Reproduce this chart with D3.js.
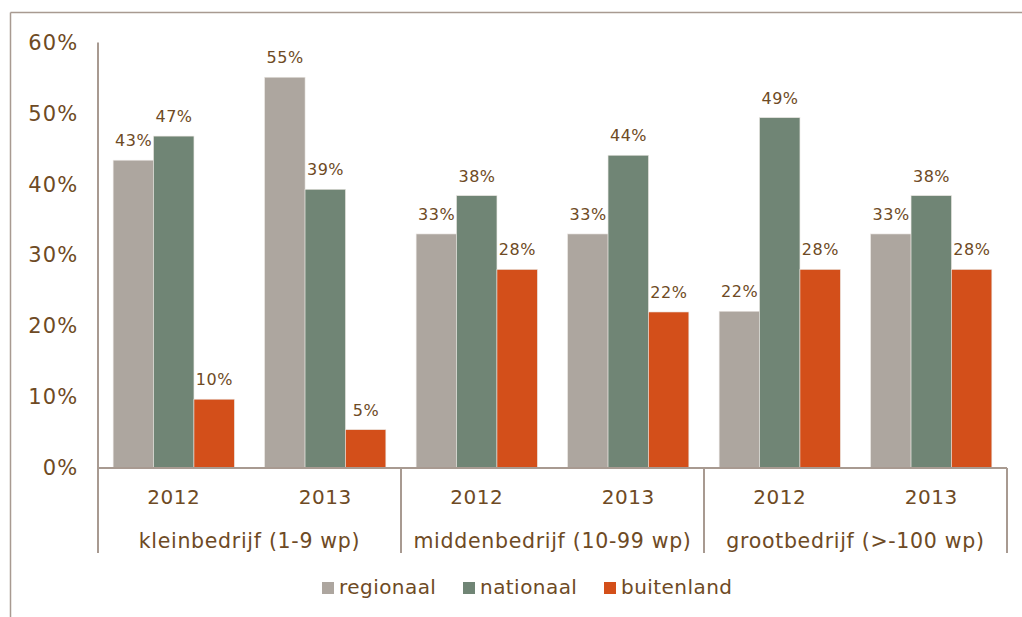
<!DOCTYPE html>
<html><head><meta charset="utf-8">
<script src="https://cdn.jsdelivr.net/npm/d3@7"></script>
<style>body{margin:0;background:#fff;} svg{display:block;font-family:"DejaVu Sans",Verdana,sans-serif;}</style>
</head><body>
<svg id="c" width="1022" height="617"></svg>
<script>
const groups = ["kleinbedrijf (1-9 wp)", "middenbedrijf (10-99 wp)", "grootbedrijf (>-100 wp)"];
const years = ["2012", "2013"];
const seriesNames = ["regionaal", "nationaal", "buitenland"];
const regionaal = [43.4, 55.1, 33.0, 33.0, 22.1, 33.0];
const nationaal = [46.8, 39.3, 38.4, 44.1, 49.4, 38.4];
const buitenland = [9.7, 5.4, 28.0, 22.0, 28.0, 28.0];
const yTicks = [0, 10, 20, 30, 40, 50, 60];

(function(){
const colors = ["#ada69f", "#708575", "#d34f1a"];
const textColor = "#6e4a24";
const lineColor = "#a89a91";

const svg = d3.select("#c");
const pLeft = 98, pRight = 1007, pTop = 42.5, pBottom = 468;

// frame
svg.append("line").attr("x1",10.5).attr("x2",1022).attr("y1",12.5).attr("y2",12.5).attr("stroke",lineColor).attr("stroke-width",1.5);
svg.append("line").attr("x1",10.5).attr("x2",10.5).attr("y1",12.5).attr("y2",617).attr("stroke",lineColor).attr("stroke-width",1.5);

const cats = [];
groups.forEach((g,gi)=>years.forEach((yr,yi)=>cats.push({g,gi,yr,key:g+"|"+yr})));
const data = cats.map((c,i)=>({...c, vals:[regionaal[i],nationaal[i],buitenland[i]]}));

const x = d3.scaleBand().domain(cats.map(c=>c.key)).range([pLeft,pRight]).paddingInner(0.2).paddingOuter(0.1);
const xs = d3.scaleBand().domain(seriesNames).range([0,x.bandwidth()]);
const y = d3.scaleLinear().domain([0,60]).range([pBottom,pTop]);

// y axis
const yAxis = d3.axisLeft(y).tickValues(yTicks).tickFormat(d=>d+"%").tickSize(0).tickPadding(19.5);
const ya = svg.append("g").attr("transform",`translate(${pLeft},0)`).call(yAxis);
ya.select(".domain").remove();
ya.selectAll("text").attr("fill",textColor).attr("font-size",21).attr("letter-spacing",1.2).attr("font-family","DejaVu Sans");
svg.append("line").attr("x1",pLeft).attr("x2",pLeft).attr("y1",pTop).attr("y2",553).attr("stroke",lineColor).attr("stroke-width",2);

// bars
const gBars = svg.append("g");
data.forEach(d=>{
  d.vals.forEach((v,si)=>{
    const bx = x(d.key)+xs(seriesNames[si]);
    gBars.append("rect").attr("x",bx).attr("y",y(v)).attr("width",xs.bandwidth()).attr("height",y(0)-y(v))
      .attr("fill",colors[si]).attr("stroke","#e8e4e0").attr("stroke-width",0.6);
    gBars.append("text").attr("x",bx+xs.bandwidth()/2+0.25).attr("y",y(v)-14).attr("text-anchor","middle")
      .attr("fill",textColor).attr("font-size",16).attr("letter-spacing",0.5).text(Math.round(v)+"%");
  });
});

// x axis line
svg.append("line").attr("x1",pLeft).attr("x2",pRight).attr("y1",pBottom).attr("y2",pBottom).attr("stroke",lineColor).attr("stroke-width",2);
const gw = (pRight-pLeft)/groups.length;
groups.forEach((g,gi)=>{
  const gx = pLeft + gw*(gi+1);
  svg.append("line").attr("x1",gx).attr("x2",gx).attr("y1",pBottom).attr("y2",553).attr("stroke",lineColor).attr("stroke-width",2);
  svg.append("text").attr("x",pLeft+gw*(gi+0.5)).attr("y",548).attr("text-anchor","middle").attr("fill",textColor).attr("font-size",20.5).attr("letter-spacing",0.7).text(g);
});
data.forEach(d=>{
  svg.append("text").attr("x",x(d.key)+x.bandwidth()/2).attr("y",504).attr("text-anchor","middle").attr("fill",textColor).attr("font-size",20).attr("letter-spacing",0.5).text(d.yr);
});

// legend
const legX = [322, 463, 604];
seriesNames.forEach((s,i)=>{
  svg.append("rect").attr("x",legX[i]).attr("y",582).attr("width",12).attr("height",12).attr("fill",colors[i]);
  svg.append("text").attr("x",legX[i]+17).attr("y",594).attr("fill",textColor).attr("font-size",20).attr("letter-spacing",0.45).text(s);
});
})();
</script>
</body></html>
